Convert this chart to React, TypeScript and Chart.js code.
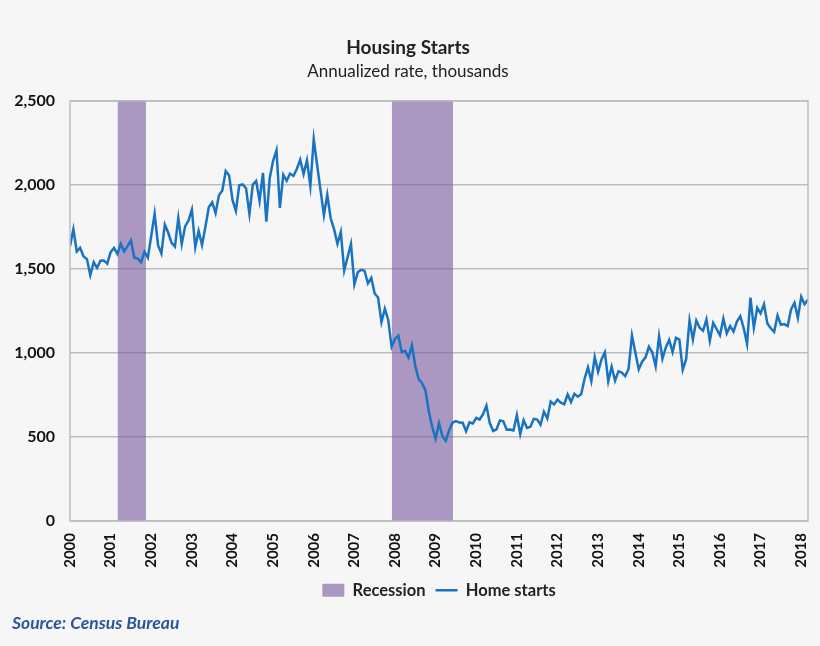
import React, { useEffect, useRef } from "react";
import { Chart, registerables } from "chart.js";

Chart.register(...registerables);

// Monthly housing starts (SAAR, thousands), Jan 2000 .. Mar 2018
const startYear = 2000;
const starts2000 = [1636, 1737, 1604, 1626, 1575, 1559, 1463, 1541, 1507, 1549, 1551, 1532];
const starts2001 = [1600, 1625, 1590, 1649, 1605, 1636, 1670, 1567, 1562, 1540, 1602, 1568];
const starts2002 = [1698, 1829, 1642, 1592, 1764, 1717, 1655, 1633, 1804, 1648, 1753, 1788];
const starts2003 = [1853, 1629, 1726, 1643, 1751, 1867, 1897, 1833, 1939, 1967, 2083, 2057];
const starts2004 = [1911, 1846, 1998, 2003, 1981, 1828, 2002, 2024, 1905, 2072, 1782, 2042];
const starts2005 = [2144, 2207, 1864, 2061, 2025, 2068, 2054, 2095, 2151, 2065, 2147, 1994];
const starts2006 = [2273, 2119, 1969, 1821, 1942, 1802, 1737, 1650, 1720, 1491, 1570, 1649];
const starts2007 = [1409, 1480, 1495, 1490, 1415, 1448, 1354, 1330, 1183, 1264, 1197, 1037];
const starts2008 = [1084, 1103, 1005, 1013, 973, 1046, 923, 844, 820, 777, 652, 560];
const starts2009 = [490, 582, 505, 478, 540, 585, 594, 586, 585, 534, 588, 581];
const starts2010 = [614, 604, 636, 687, 583, 536, 546, 599, 594, 543, 545, 539];
const starts2011 = [630, 517, 600, 554, 561, 608, 604, 573, 650, 610, 711, 694];
const starts2012 = [723, 704, 695, 753, 708, 757, 740, 754, 847, 915, 833, 976];
const starts2013 = [888, 962, 1005, 831, 919, 835, 891, 883, 863, 905, 1105, 1003];
const starts2014 = [902, 948, 974, 1037, 1004, 921, 1100, 966, 1033, 1078, 1006, 1090];
const starts2015 = [1080, 900, 963, 1193, 1080, 1193, 1150, 1132, 1200, 1073, 1179, 1143];
const starts2016 = [1105, 1204, 1117, 1160, 1127, 1187, 1219, 1149, 1054, 1330, 1150, 1269];
const starts2017 = [1236, 1290, 1175, 1147, 1126, 1223, 1168, 1172, 1160, 1260, 1299, 1209];
const starts2018 = [1334, 1290, 1319];

const homeStarts = [
  ...starts2000, ...starts2001, ...starts2002, ...starts2003, ...starts2004,
  ...starts2005, ...starts2006, ...starts2007, ...starts2008, ...starts2009,
  ...starts2010, ...starts2011, ...starts2012, ...starts2013, ...starts2014,
  ...starts2015, ...starts2016, ...starts2017, ...starts2018,
];

// Recessions (fractional years)
const recessionStart = [2001.17, 2007.92];
const recessionEnd = [2001.87, 2009.43];
const recessionTop = 2500;

const yTicks = [0, 500, 1000, 1500, 2000, 2500];

const FONT = "Lato, 'Open Sans', sans-serif";
const BG = "#f6f6f6";
const PURPLE = "rgba(120, 90, 160, 0.6)";
const BLUE = "#1a73c0";

const boxPlugin = {
  id: "plotBox",
  afterDraw(chart: any) {
    const { ctx, chartArea } = chart;
    ctx.save();
    ctx.strokeStyle = "#bdbdbd";
    ctx.lineWidth = 1.5;
    ctx.strokeRect(chartArea.left, chartArea.top, chartArea.right - chartArea.left, chartArea.bottom - chartArea.top);
    ctx.restore();
  },
};

const bgPlugin = {
  id: "bg",
  beforeDraw(chart: any) {
    const { ctx, width, height } = chart;
    ctx.save();
    ctx.fillStyle = BG;
    ctx.fillRect(0, 0, width, height);
    ctx.restore();
  },
};

export default function App() {
  const ref = useRef<HTMLCanvasElement | null>(null);

  useEffect(() => {
    if (!ref.current) return;
    const lineData = homeStarts.map((v, i) => ({ x: startYear + i / 12, y: v }));
    const recessionSets = recessionStart.map((s, i) => ({
      label: "Recession",
      data: [
        { x: s, y: recessionTop },
        { x: recessionEnd[i], y: recessionTop },
      ],
      borderWidth: 0,
      borderColor: "rgba(0,0,0,0)",
      backgroundColor: PURPLE,
      fill: "origin",
      pointRadius: 0,
      order: 2,
    }));
    const chart = new Chart(ref.current, {
      type: "line",
      data: {
        datasets: [
          ...recessionSets,
          {
            label: "Home starts",
            data: lineData,
            borderColor: BLUE,
            backgroundColor: BLUE,
            borderWidth: 2.5,
            pointRadius: 0,
            fill: false,
            tension: 0,
            order: 1,
          },
        ] as any,
      },
      options: {
        animation: false,
        responsive: false,
        maintainAspectRatio: false,
        layout: { padding: { left: 8, right: 12, top: 0, bottom: 37.5 } },
        plugins: {
          tooltip: { enabled: false },
          title: {
            display: true,
            text: "Housing Starts",
            color: "#222",
            font: { family: FONT, size: 19, weight: "bold" },
            padding: { top: 36, bottom: 3 },
          },
          subtitle: {
            display: true,
            text: "Annualized rate, thousands",
            color: "#222",
            font: { family: FONT, size: 17, weight: "normal" },
            padding: { top: 0, bottom: 18.8 },
          },
          legend: {
            position: "bottom",
            fullSize: false,
            labels: {
              color: "#222",
              font: { family: FONT, size: 16.5, weight: "bold" },
              usePointStyle: true,
              pointStyleWidth: 22,
              boxHeight: 13,
              padding: 10,
              generateLabels: () => [
                {
                  text: "Recession",
                  fillStyle: PURPLE,
                  strokeStyle: PURPLE,
                  lineWidth: 0,
                  pointStyle: "rect",
                  hidden: false,
                  datasetIndex: 0,
                  fontColor: "#222",
                } as any,
                {
                  text: "Home starts",
                  fillStyle: BLUE,
                  strokeStyle: BLUE,
                  lineWidth: 2.5,
                  pointStyle: "line",
                  hidden: false,
                  datasetIndex: 2,
                  fontColor: "#222",
                } as any,
              ],
            },
          },
        },
        scales: {
          x: {
            type: "linear",
            min: startYear,
            max: startYear + (homeStarts.length - 1) / 12,
            grid: { display: false, drawTicks: false },
            border: { display: false },
            ticks: {
              stepSize: 1,
              includeBounds: false,
              autoSkip: false,
              minRotation: 90,
              maxRotation: 90,
              padding: 12,
              color: "#111",
              font: { family: FONT, size: 15, weight: "bold" },
              callback: (v: any) => String(v),
            },
            afterFit: (s: any) => {
              s.height = 51;
              s.paddingRight = 0;
              s.paddingLeft = 0;
            },
          },
          y: {
            min: 0,
            max: 2500,
            grid: { color: "#bdbdbd", lineWidth: 1.5, drawTicks: false },
            border: { display: false },
            afterBuildTicks: (s: any) => {
              s.ticks = yTicks.map((v) => ({ value: v }));
            },
            ticks: {
              padding: 15,
              color: "#111",
              font: { family: FONT, size: 16, weight: "bold" },
              callback: (v: any) => Number(v).toLocaleString("en-US"),
            },
            afterFit: (s: any) => {
              s.width = 62;
            },
          },
        },
      },
      plugins: [bgPlugin, boxPlugin],
    });
    return () => chart.destroy();
  }, []);

  return (
    <div style={{ position: "absolute", left: 0, top: 0, width: 820, height: 646, background: BG }}>
      <canvas ref={ref} width={820} height={646} style={{ display: "block" }} />
      <div
        style={{
          position: "absolute",
          left: 12,
          top: 612,
          fontFamily: FONT,
          fontStyle: "italic",
          fontWeight: "bold",
          fontSize: 17.5,
          color: "#2e5597",
          whiteSpace: "nowrap",
        }}
      >
        Source: Census Bureau
      </div>
    </div>
  );
}
